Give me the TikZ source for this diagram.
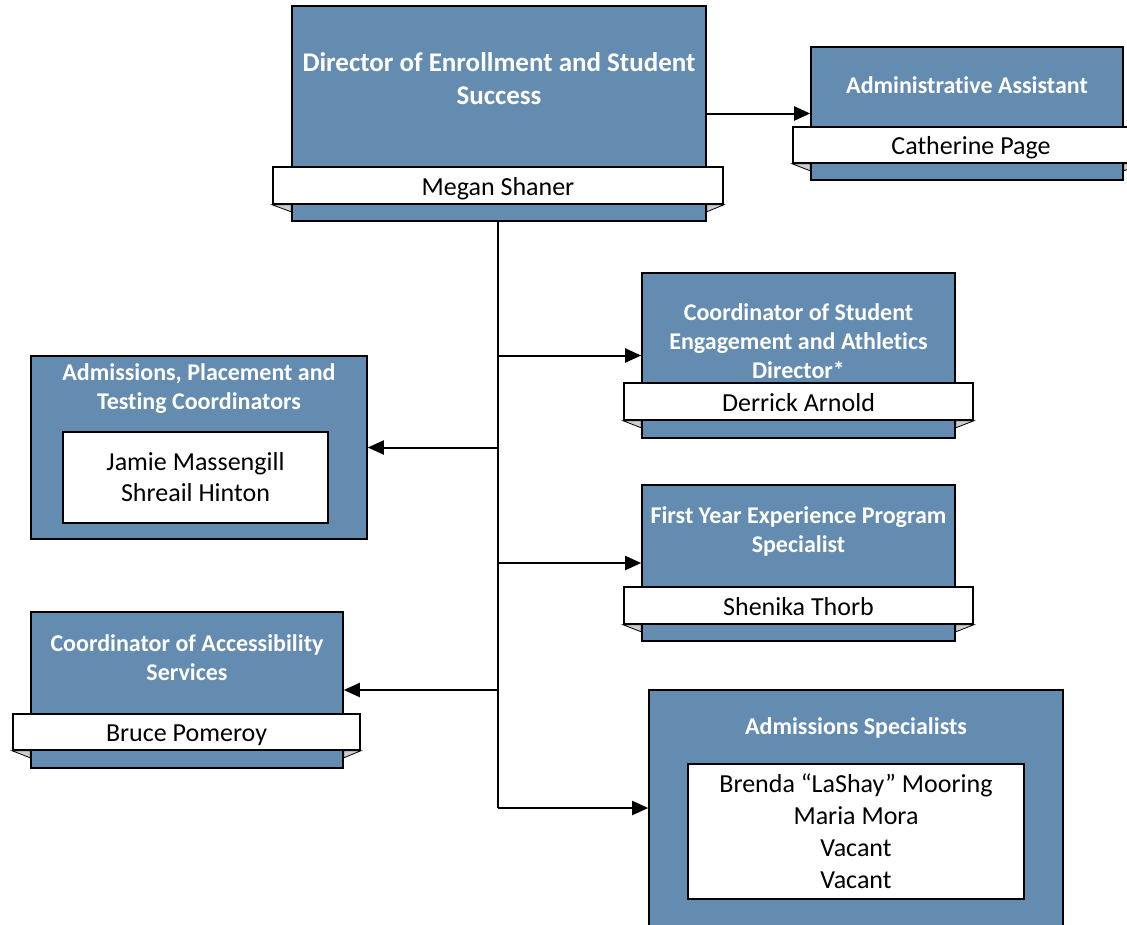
\documentclass[tikz,border=0pt]{standalone}
\usepackage{fontspec}
\setmainfont[Ligatures=NoCommon]{Carlito}
\usetikzlibrary{arrows.meta}
\definecolor{boxblue}{RGB}{100,140,176}
\definecolor{foldgrey}{RGB}{205,205,205}
\begin{document}
\begin{tikzpicture}[x=1pt,y=-1pt,
  box/.style={draw=black, line width=1.6pt, fill=boxblue, inner sep=0pt},
  ribbon/.style={draw=black, line width=1.6pt, fill=white, inner sep=0pt, text height=19pt, text depth=0pt, font=\fontsize{26}{32}\selectfont},
  inner/.style={draw=black, line width=1.6pt, fill=white, inner sep=0pt, align=center, font=\fontsize{26}{32}\selectfont},
  title/.style={text=white, inner sep=0pt, align=center, font=\bfseries\fontsize{24}{29}\selectfont},
  bigtitle/.style={text=white, inner sep=0pt, align=center, font=\bfseries\fontsize{27}{33}\selectfont},
  fold/.style={fill=foldgrey, draw=black, line width=0.8pt},
  trunk/.style={draw=black, line width=2.8pt},
  arr/.style={draw=black, line width=2pt, -{Triangle[length=16pt,width=14pt]}}
]
\useasboundingbox (0,0) rectangle (1127,924);
\clip (0,0) rectangle (1127,924);

\newcommand{\foldpair}[2]{%
  \path[fold] (#1.south west) -- (#2.west |- #1.south) -- ([shift={(0,7)}]#2.west |- #1.south) -- cycle;
  \path[fold] (#1.south east) -- (#2.east |- #1.south) -- ([shift={(0,7)}]#2.east |- #1.south) -- cycle;
}

% Director
\node[box, minimum width=414pt, minimum height=215pt] (dir) at (499,113.5) {};
\node[bigtitle] (dirt) at (499,78.5) {Director of Enrollment and Student\\Success};
\node[ribbon, minimum width=450pt, minimum height=37pt] (dirr) at (498,185.5) {Megan Shaner};
\foldpair{dirr}{dir}

% Administrative Assistant
\node[box, minimum width=312pt, minimum height=133pt] (aa) at (967,113.5) {};
\node[title] (aat) at (967,85) {Administrative Assistant};
\node[ribbon, minimum width=348pt, minimum height=36pt] (aar) at (967,145) {\hspace*{8pt}Catherine Page};
\foldpair{aar}{aa}

% Coordinator of Student Engagement
\node[box, minimum width=313pt, minimum height=165pt] (cse) at (798.5,355.5) {};
\node[title] (cset) at (798.5,341) {Coordinator of Student\\Engagement and Athletics\\Director*};
\node[ribbon, minimum width=349pt, minimum height=37pt] (cser) at (798.5,401.5) {Derrick Arnold};
\foldpair{cser}{cse}

% First Year Experience
\node[box, minimum width=313pt, minimum height=156pt] (fye) at (798.5,563) {};
\node[title] (fyet) at (798.5,531.5) {First Year Experience Program\\Specialist};
\node[ribbon, minimum width=349pt, minimum height=37pt] (fyer) at (798.5,605.5) {Shenika Thorb};
\foldpair{fyer}{fye}

% Admissions, Placement and Testing
\node[box, minimum width=336pt, minimum height=183pt] (apt) at (199,447.5) {};
\node[title] (aptt) at (199,388.5) {Admissions, Placement and\\Testing Coordinators};
\node[inner, minimum width=265pt, minimum height=91pt, font=\fontsize{26}{31}\selectfont] (apti) at (195.5,477.5) {Jamie Massengill\\Shreail Hinton};

% Coordinator of Accessibility Services
\node[box, minimum width=312pt, minimum height=156pt] (acc) at (187,690) {};
\node[title] (acct) at (187,658) {Coordinator of Accessibility\\Services};
\node[ribbon, minimum width=347pt, minimum height=36pt] (accr) at (186.5,732) {Bruce Pomeroy};
\foldpair{accr}{acc}

% Admissions Specialists
\node[box, minimum width=414pt, minimum height=236pt] (as) at (856,808) {};
\node[title] (ast) at (856,728) {Admissions Specialists};
\node[inner, minimum width=336pt, minimum height=135pt] (asi) at (856,831.5) {Brenda “LaShay” Mooring\\Maria Mora\\Vacant\\Vacant};

% Connectors
\coordinate (tend) at (498,808);
\coordinate (j1) at (498,355.5);
\coordinate (j2) at (498,447.5);
\coordinate (j3) at (498,563);
\coordinate (j4) at (498,690);
\draw[trunk] (dir.south -| tend) -- (tend);
\draw[arr] (dir.east) -- (aa.west);
\draw[arr] (j1) -- (cse.west);
\draw[arr] (j2) -- (apt.east);
\draw[arr] (j3) -- (fye.west);
\draw[arr] (j4) -- (acc.east);
\draw[arr] (tend) -- (as.west);
\end{tikzpicture}
\end{document}
